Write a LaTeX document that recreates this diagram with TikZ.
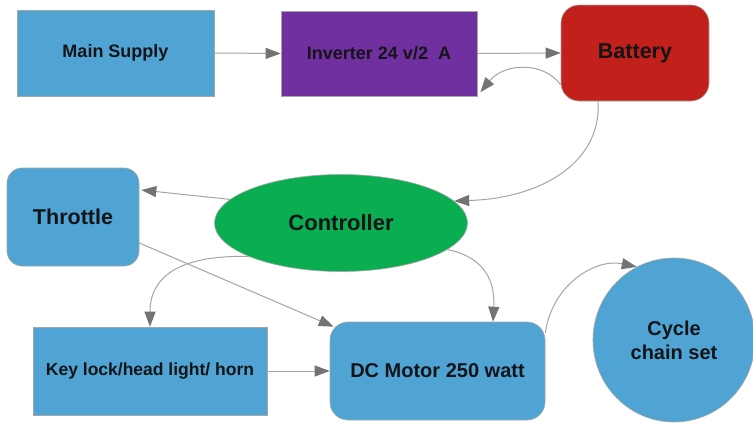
\documentclass[tikz,border=0pt]{standalone}
\usepackage{fontspec}
\setmainfont{Liberation Sans}
\usetikzlibrary{arrows.meta,shapes.geometric,calc}
\definecolor{boxblue}{RGB}{79,164,211}
\definecolor{boxpurple}{RGB}{112,48,160}
\definecolor{boxred}{RGB}{193,33,26}
\definecolor{boxgreen}{RGB}{10,174,80}
\definecolor{linegray}{RGB}{165,165,165}
\definecolor{tipgray}{RGB}{115,115,115}
\definecolor{txt}{RGB}{20,20,25}
\tikzset{
  base/.style={draw=gray!70, line width=0.6pt, inner sep=0pt, text=txt, font=\bfseries\fontsize{18}{21}\selectfont, align=center},
  sqbox/.style={base, rectangle},
  rbox/.style={base, rectangle, rounded corners=18pt},
  conn/.style={draw=linegray, line width=1pt, -{Triangle[length=15pt,width=11pt,color=tipgray]}},
}
\begin{document}
\begin{tikzpicture}[x=1pt,y=-1pt]
\useasboundingbox (0,0) rectangle (753,424);
\fill[white] (0,0) rectangle (753,424);
% nodes
\node[sqbox, fill=boxblue, minimum width=197pt, minimum height=86pt] (ms) at (115.5,53) {Main Supply};
\node[sqbox, fill=boxpurple, minimum width=196pt, minimum height=85pt] (inv) at (379,53.5) {Inverter 24 v/2\ \ A};
\node[rbox, fill=boxred, minimum width=148pt, minimum height=96pt, font=\bfseries\fontsize{21.5}{24}\selectfont] (bat) at (635,53) {Battery};
\node[rbox, fill=boxblue, rounded corners=15pt, minimum width=132pt, minimum height=98pt, font=\bfseries\fontsize{21.5}{24}\selectfont] (thr) at (73,217) {Throttle};
\node[base, ellipse, fill=boxgreen, minimum width=253pt, minimum height=97pt, font=\bfseries\fontsize{22}{24}\selectfont] (ctl) at (341,223) {Controller};
\node[sqbox, fill=boxblue, minimum width=234pt, minimum height=88pt, font=\bfseries\fontsize{17.5}{20}\selectfont] (key) at (150,371) {Key lock/head light/ horn};
\node[rbox, fill=boxblue, minimum width=215pt, minimum height=98pt, font=\bfseries\fontsize{20}{23}\selectfont] (dcm) at (437.5,371) {DC Motor 250 watt};
\node[base, ellipse, fill=boxblue, minimum width=162pt, minimum height=164pt, font=\bfseries\fontsize{20}{24}\selectfont] (cyc) at (674,340) {Cycle\\chain set};
% connectors
\draw[conn] (ms.east) -- (inv.west);
\draw[conn] (inv.east) -- (bat.west);
\draw[conn] ($(bat.west)+(0,32)$) .. controls (545,62) and (505,62) .. ($(inv.south east)+(3,-4)$);
\draw[conn] ($(bat.south)+(-37,0)$) .. controls (602,160) and (545,198) .. (ctl.11);
\draw[conn] (ctl.168) -- ($(thr.east)+(2,-27)$);
\draw[conn] ($(thr.east)+(0,26)$) -- ($(dcm.north west)+(4,5)$);
\draw[conn] (ctl.200) .. controls (195,255) and (150,268) .. (key.north);
\draw[conn] (ctl.346) .. controls (488,258) and (495,285) .. ($(dcm.north)+(55.5,0)$);
\draw[conn] (key.east) -- (dcm.west);
\draw[conn] ($(dcm.east)+(0,-38)$) .. controls (552,285) and (595,258) .. (cyc.117);
\end{tikzpicture}
\end{document}
